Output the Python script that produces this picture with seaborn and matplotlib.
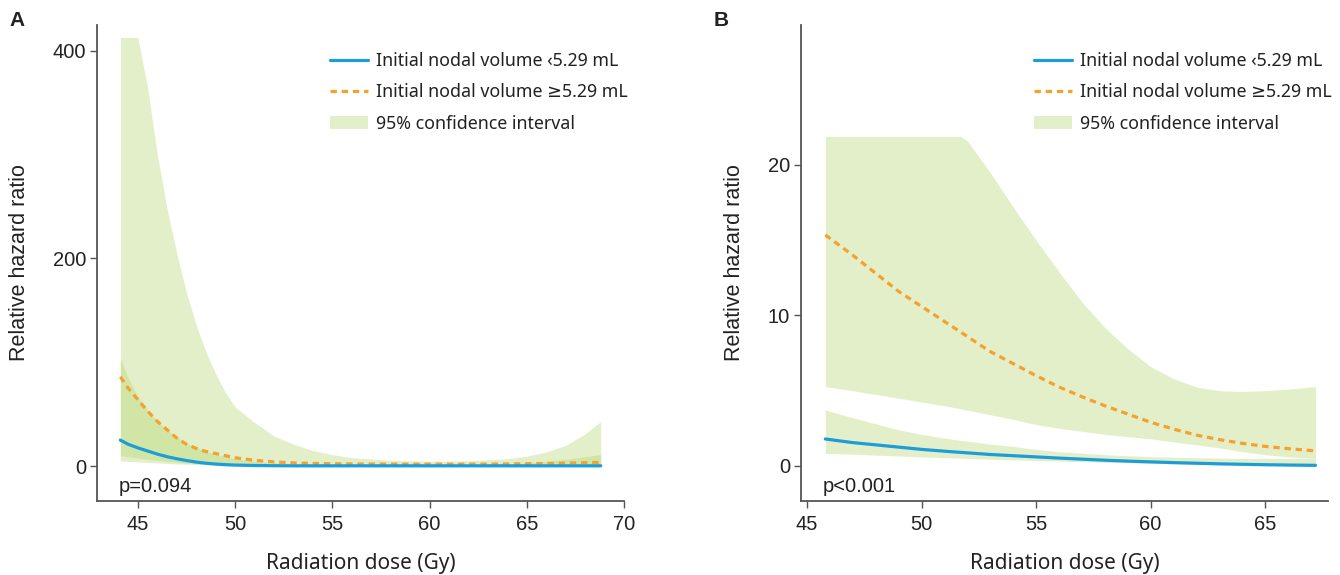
import numpy as np
import pandas as pd
import seaborn as sns
import matplotlib
matplotlib.use('Agg')
from matplotlib import pyplot as plt
from matplotlib.lines import Line2D
from matplotlib.patches import Patch

# Panel A values
dose_a = [44.1, 44.5, 45.0, 45.5, 46.0, 46.5, 47.0, 47.5, 48.0, 48.5, 49.0, 49.5, 50.0,
          51.0, 52.0, 53.0, 54.0, 55.0, 56.0, 58.0, 60.0, 62.0, 64.0, 65.0, 66.0, 67.0, 68.0, 68.8]
low_hr_a = [25, 21, 17.5, 14.5, 11.5, 9, 7, 5.3, 3.8, 2.7, 1.9, 1.3, 0.9,
            0.5, 0.3, 0.2, 0.2, 0.2, 0.2, 0.2, 0.2, 0.2, 0.2, 0.2, 0.2, 0.2, 0.2, 0.2]
low_lo_a = [10, 9, 7.5, 6.5, 5.5, 4.5, 3.5, 2.8, 2.2, 1.7, 1.3, 1.0, 0.7,
            0.4, 0.25, 0.2, 0.2, 0.1, 0.1, 0.1, 0.1, 0.1, 0.1, 0.1, 0.1, 0.1, 0.1, 0.1]
low_hi_a = [104, 85, 67, 54, 43, 35, 28, 22, 18, 14, 11, 9, 7,
            4.5, 3, 2, 1.5, 1.2, 1, 1, 1, 1.2, 2, 3, 4.5, 6.5, 9, 11]
high_hr_a = [86, 75, 64, 53, 43, 35, 27, 21, 17, 14, 12, 10, 8,
             5.5, 4, 3, 2.5, 2.2, 2, 1.8, 1.8, 1.8, 2, 2.2, 2.5, 2.8, 3.2, 3.5]
high_lo_a = [5, 4.5, 4, 3.5, 3, 2.5, 2, 1.8, 1.5, 1.3, 1.1, 0.9, 0.8,
             0.6, 0.5, 0.5, 0.5, 0.5, 0.5, 0.5, 0.5, 0.5, 0.5, 0.5, 0.5, 0.5, 0.5, 0.5]
high_hi_a = [413, 413, 413, 365, 300, 248, 205, 167, 136, 110, 89, 71, 57,
             42, 29, 21, 15, 11, 8, 5.5, 4.5, 5, 7, 9.5, 13.5, 20, 31, 43]

# Panel B values
dose_b = [45.8, 47, 48, 49, 50, 51, 51.7, 52, 53, 54, 55, 56, 57, 58, 59, 60,
          61, 62, 63, 64, 65, 66, 67.2]
low_hr_b = [1.79, 1.55, 1.4, 1.25, 1.1, 0.98, 0.9, 0.87, 0.76, 0.68, 0.6, 0.52, 0.45, 0.38, 0.32, 0.27,
            0.22, 0.18, 0.14, 0.11, 0.08, 0.06, 0.04]
low_lo_b = [0.84, 0.78, 0.72, 0.66, 0.6, 0.55, 0.52, 0.5, 0.45, 0.4, 0.36, 0.32, 0.28, 0.24, 0.2, 0.17,
            0.14, 0.11, 0.08, 0.06, 0.04, 0.02, 0.0]
low_hi_b = [3.72, 3.2, 2.8, 2.4, 2.1, 1.85, 1.7, 1.65, 1.45, 1.3, 1.1, 0.95, 0.85, 0.75, 0.68, 0.62,
            0.58, 0.55, 0.52, 0.5, 0.5, 0.5, 0.5]
high_hr_b = [15.35, 14.0, 12.8, 11.6, 10.6, 9.6, 8.9, 8.6, 7.6, 6.8, 6.0, 5.25, 4.6, 4.0, 3.45, 2.9,
             2.45, 2.05, 1.75, 1.5, 1.3, 1.15, 1.0]
high_lo_b = [5.27, 5.0, 4.75, 4.5, 4.25, 4.0, 3.8, 3.7, 3.4, 3.1, 2.75, 2.5, 2.3, 2.1, 1.95, 1.8,
             1.6, 1.4, 1.2, 0.95, 0.75, 0.6, 0.5]
high_hi_b = [21.9, 21.9, 21.9, 21.9, 21.9, 21.9, 21.9, 21.6, 19.5, 17.2, 15.0, 12.9, 10.9, 9.2, 7.8, 6.6,
             5.8, 5.25, 5.0, 4.95, 5.0, 5.1, 5.27]

p_texts = ['p=0.094', 'p<0.001']
legend_labels = ['Initial nodal volume \u20395.29 mL', 'Initial nodal volume \u22655.29 mL', '95% confidence interval']

blue = '#1d9dd8'
orange = '#f6a12c'
band = '#b3d46a'
band_alpha = 0.36
spine_col = '#555555'
dash = (0, (2.0, 1.5))

sns.set_style('ticks')
plt.rcParams['font.family'] = ['Liberation Sans', 'DejaVu Sans']
noto = ['Noto Sans', 'DejaVu Sans']

fig = plt.figure(figsize=(13.4, 5.75), dpi=100)
axA = fig.add_axes([0.0724, 0.1287, 0.3933, 0.8278])
axB = fig.add_axes([0.5978, 0.1287, 0.3933, 0.8278])

def draw_panel(ax, dose, lhr, llo, lhi, hhr, hlo, hhi):
    ax.fill_between(dose, hlo, hhi, color=band, alpha=band_alpha, linewidth=0)
    ax.fill_between(dose, llo, lhi, color=band, alpha=band_alpha, linewidth=0)
    df = pd.DataFrame({'dose': dose, 'low': lhr, 'high': hhr})
    sns.lineplot(data=df, x='dose', y='high', ax=ax, color=orange, linewidth=2.3, linestyle=dash)
    sns.lineplot(data=df, x='dose', y='low', ax=ax, color=blue, linewidth=2.3)

draw_panel(axA, dose_a, low_hr_a, low_lo_a, low_hi_a, high_hr_a, high_lo_a, high_hi_a)
draw_panel(axB, dose_b, low_hr_b, low_lo_b, low_hi_b, high_hr_b, high_lo_b, high_hi_b)

axA.set_xlim(42.9, 70)
axA.set_ylim(-33.7, 425)
axA.set_xticks([45, 50, 55, 60, 65, 70])
axA.set_yticks([0, 200, 400])
axB.set_xlim(44.74, 67.75)
axB.set_ylim(-2.33, 29.3)
axB.set_xticks([45, 50, 55, 60, 65])
axB.set_yticks([0, 10, 20])

handles = [Line2D([], [], color=blue, linewidth=2.3),
           Line2D([], [], color=orange, linewidth=2.3, linestyle=dash),
           Patch(facecolor=band, alpha=band_alpha, linewidth=0)]

for ax, ptxt, lab in zip([axA, axB], p_texts, ['A', 'B']):
    sns.despine(ax=ax)
    for s in ['left', 'bottom']:
        ax.spines[s].set_color(spine_col)
        ax.spines[s].set_linewidth(1.3)
    ax.tick_params(axis='both', length=5, width=1, color=spine_col, labelsize=14.5,
                   labelcolor='#222222', direction='out')
    ax.tick_params(axis='y', pad=3)
    ax.tick_params(axis='x', pad=5)
    ax.set_xlabel('Radiation dose (Gy)', fontsize=15, family=noto, color='#222222', labelpad=14)
    ax.set_ylabel('Relative hazard ratio', fontsize=15.5, color='#222222', labelpad=16)
    ax.text(0.042, 0.018, ptxt, transform=ax.transAxes, fontsize=14.5, color='#222222',
            va='baseline', ha='left')
    leg = ax.legend(handles, legend_labels, loc='upper right', frameon=False,
                    prop={'family': noto, 'size': 12.8},
                    handlelength=2.14, handletextpad=0.45, labelspacing=0.75,
                    borderaxespad=0.0, bbox_to_anchor=(1.02, 0.958))
    for t in leg.get_texts():
        t.set_color('#222222')
    fig.text(ax.get_position().x0 - 0.065, 0.948, lab, fontsize=15, fontweight='bold',
             color='#222222', va='bottom')

fig.savefig('out.png', dpi=100)
